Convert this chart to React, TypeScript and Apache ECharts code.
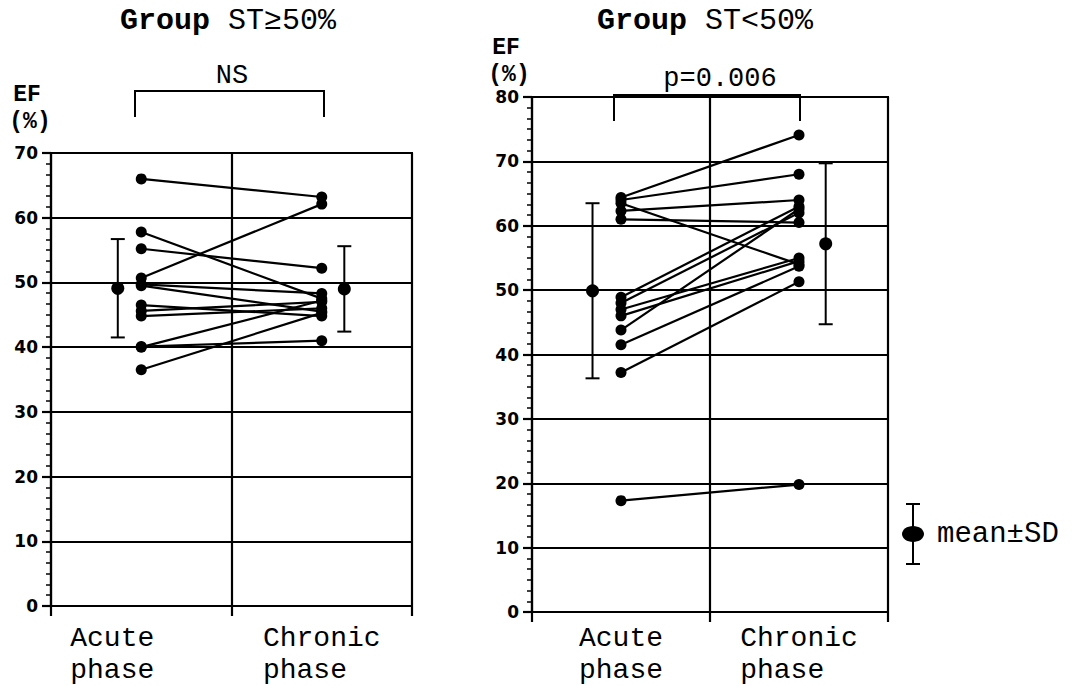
import React, { useEffect, useRef } from "react";
import * as echarts from "echarts";

// ---- data ----
const phaseLabels = ["Acute", "Chronic"];
const phaseWord = "phase";
const groupNames = ["ST≥50%", "ST<50%"];
const significance = ["NS", "p=0.006"];
const yMax = [70, 80];

// Group ST≥50%
const highAcute = [66.0, 57.8, 55.2, 50.7, 49.7, 49.5, 46.5, 45.6, 44.8, 40.1, 40.0, 36.5];
const highChronic = [63.2, 47.5, 52.2, 62.1, 48.3, 45.5, 44.8, 47.0, 46.0, 41.0, 47.2, 45.3];
const highMean = [49.1, 49.0];
const highSD = [7.6, 6.6];

// Group ST<50%
const lowAcute = [64.4, 64.0, 63.5, 62.3, 61.0, 48.9, 48.0, 47.0, 46.0, 43.8, 41.5, 37.2, 17.3];
const lowChronic = [74.1, 68.0, 54.0, 64.0, 60.5, 63.0, 62.0, 55.0, 54.5, 62.6, 53.7, 51.3, 19.8];
const lowMean = [49.9, 57.2];
const lowSD = [13.6, 12.5];

const MONO = "'Liberation Mono', 'DejaVu Sans Mono', monospace";
const SANS = "'DejaVu Sans', 'Liberation Sans', sans-serif";
const BLACK = "#000";
const NBSP = "\u00a0";

const panels = [
  { acute: highAcute, chronic: highChronic, mean: highMean, sd: highSD, meanX: [0.74, 3.25] },
  { acute: lowAcute, chronic: lowChronic, mean: lowMean, sd: lowSD, meanX: [0.68, 3.3] },
];

const grids = [
  { left: 51, top: 153, width: 361, height: 455 },
  { left: 532, top: 97, width: 356, height: 518 },
];

// pad the second line so that both lines start at the same x (monospace font)
function twoLines(word: string) {
  const pad = Math.max(0, word.length - phaseWord.length);
  return `${word}\n${phaseWord}${NBSP.repeat(pad)}`;
}

function buildOption() {
  const lineStyle = { color: BLACK, width: 2.2 };
  const xAxis: any[] = [];
  const yAxis: any[] = [];
  const series: any[] = [];

  panels.forEach((p, gi) => {
    xAxis.push({
      gridIndex: gi,
      type: "value",
      position: "bottom",
      min: 0,
      max: 4,
      interval: 2,
      axisLine: { show: true, lineStyle },
      axisTick: { show: true, length: 10, lineStyle },
      axisLabel: { show: false },
      splitLine: { show: true, lineStyle },
    });
    xAxis.push({
      gridIndex: gi,
      type: "value",
      position: "bottom",
      offset: 0,
      min: 0,
      max: 4,
      interval: 1,
      axisLine: { show: false },
      axisTick: { show: false },
      splitLine: { show: false },
      axisLabel: {
        show: true,
        margin: gi === 0 ? 16 : 10,
        color: BLACK,
        fontFamily: MONO,
        fontSize: 28,
        lineHeight: 32,
        formatter: (v: number) => {
          if (v === 1) {
            const t = twoLines(phaseLabels[0]);
            return gi === 0 ? t.split("\n").map((s) => `{l|${s}}`).join("\n") : t;
          }
          if (v === 3) return twoLines(phaseLabels[1]);
          return "";
        },
        rich: {
          l: { fontFamily: MONO, fontSize: 28, lineHeight: 32, color: BLACK, padding: [0, 58, 0, 0] },
        },
      },
    });
    yAxis.push({
      gridIndex: gi,
      type: "value",
      min: 0,
      max: yMax[gi],
      interval: 10,
      axisLine: { show: true, lineStyle },
      axisTick: { show: true, length: 9, lineStyle },
      minorTick: { show: true, splitNumber: 6, length: 5, lineStyle: { color: BLACK, width: 1.5 } },
      axisLabel: { color: BLACK, fontFamily: SANS, fontWeight: "bold", fontSize: 17, margin: 13 },
      splitLine: { show: true, lineStyle },
    });

    p.acute.forEach((a, i) => {
      series.push({
        type: "line",
        xAxisIndex: gi * 2,
        yAxisIndex: gi,
        data: [
          [1, a],
          [3, p.chronic[i]],
        ],
        symbol: "circle",
        symbolSize: 11,
        lineStyle,
        itemStyle: { color: BLACK },
        silent: true,
        z: 3,
      });
    });

    series.push({
      type: "custom",
      xAxisIndex: gi * 2,
      yAxisIndex: gi,
      silent: true,
      z: 4,
      data: p.mean.map((m, i) => [p.meanX[i], m, p.sd[i]]),
      renderItem: (_params: any, api: any) => {
        const x = api.value(0);
        const m = api.value(1);
        const sd = api.value(2);
        const top = api.coord([x, m + sd]);
        const bot = api.coord([x, m - sd]);
        const c = api.coord([x, m]);
        const st = { stroke: BLACK, lineWidth: 2 };
        return {
          type: "group",
          children: [
            { type: "line", shape: { x1: top[0], y1: top[1], x2: bot[0], y2: bot[1] }, style: st },
            { type: "line", shape: { x1: top[0] - 7, y1: top[1], x2: top[0] + 7, y2: top[1] }, style: st },
            { type: "line", shape: { x1: bot[0] - 7, y1: bot[1], x2: bot[0] + 7, y2: bot[1] }, style: st },
            { type: "circle", shape: { cx: c[0], cy: c[1], r: 6.5 }, style: { fill: BLACK } },
          ],
        };
      },
    });
  });

  const txt = (x: number, y: number, text: string, font: string, align = "center") => ({
    type: "text",
    x,
    y,
    style: {
      text,
      font,
      fill: BLACK,
      textAlign: align,
      align,
      textVerticalAlign: "middle",
      verticalAlign: "middle",
    },
  });

  const titleGroup = (cx: number, name: string) => {
    // "Group " bold + name normal, centered around cx (monospace 30px -> 18px per char)
    const adv = 18;
    const total = (6 + name.length) * adv;
    const left = cx - total / 2;
    return [
      txt(left, 21, "Group", `bold 30px ${MONO}`, "left"),
      txt(left + 6 * adv, 21, name, `normal 30px ${MONO}`, "left"),
    ];
  };

  const bracket = (x1: number, x2: number, yTop: number, yBot: number) => ({
    type: "polyline",
    shape: { points: [[x1, yBot], [x1, yTop], [x2, yTop], [x2, yBot]] },
    style: { stroke: BLACK, lineWidth: 2, fill: null },
  });

  const graphic: any[] = [
    ...titleGroup(228, groupNames[0]),
    ...titleGroup(705, groupNames[1]),
    bracket(135, 324, 91, 117),
    bracket(614, 800, 95, 121),
    txt(232, 76, significance[0], `normal 27px ${MONO}`),
    txt(720, 79, significance[1], `normal 27px ${MONO}`),
    txt(27, 95, "EF", `bold 23px ${MONO}`),
    txt(30, 122, "(%)", `bold 23px ${MONO}`),
    txt(506, 48, "EF", `bold 23px ${MONO}`),
    txt(509, 75, "(%)", `bold 23px ${MONO}`),
    // legend mean ± SD
    { type: "line", shape: { x1: 913, y1: 504, x2: 913, y2: 564 }, style: { stroke: BLACK, lineWidth: 2 } },
    { type: "line", shape: { x1: 906, y1: 504, x2: 920, y2: 504 }, style: { stroke: BLACK, lineWidth: 2 } },
    { type: "line", shape: { x1: 906, y1: 564, x2: 920, y2: 564 }, style: { stroke: BLACK, lineWidth: 2 } },
    { type: "ellipse", shape: { cx: 913, cy: 534, rx: 11, ry: 8 }, style: { fill: BLACK } },
    txt(937, 534, "mean±SD", `normal 29px ${MONO}`, "left"),
  ];

  return {
    animation: false,
    backgroundColor: "#fff",
    grid: grids.map((g) => ({ ...g, show: true, borderColor: BLACK, borderWidth: 2, containLabel: false })),
    xAxis,
    yAxis,
    series,
    graphic,
  };
}

export default function App() {
  const ref = useRef<HTMLDivElement>(null);
  useEffect(() => {
    if (!ref.current) return;
    const chart = echarts.init(ref.current, undefined, { renderer: "svg" });
    chart.setOption(buildOption() as any);
    return () => chart.dispose();
  }, []);
  return (
    <div
      ref={ref}
      style={{ position: "absolute", left: 0, top: 0, width: 1075, height: 686, background: "#fff" }}
    />
  );
}
